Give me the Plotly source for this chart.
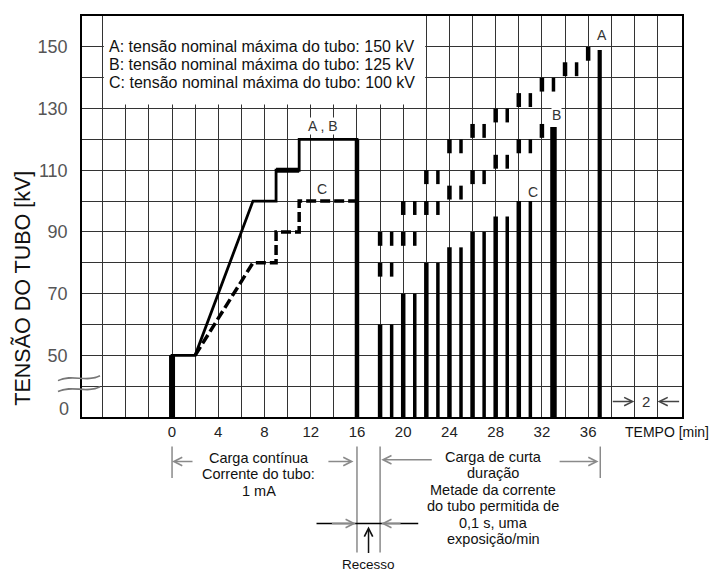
import plotly.graph_objects as go

# ---------------- data ----------------
x_tick_vals = [-6, -4, -2, 0, 2, 4, 6, 8, 10, 12, 14, 16, 18, 20, 22, 24, 26, 28, 30, 32, 34, 36, 38, 40, 42]
x_tick_text = ["", "", "", "0", "", "4", "", "8", "", "12", "", "16", "", "20", "", "24", "", "28", "", "32", "", "36", "", "", ""]
y_tick_vals = [30, 40, 50, 60, 70, 80, 90, 100, 110, 120, 130, 140, 150]
y_tick_text = ["", "", "50", "", "70", "", "90", "", "110", "", "130", "", "150"]
y_zero_label = "0"   # printed slightly above the bottom edge (axis break)

# continuous load (A, B solid / C dashed)
cont_ab_t = [0, 0, 2, 7, 9, 9, 11, 11, 16, 16]
cont_ab_kv = [30, 50, 50, 100, 100, 110, 110, 120, 120, 30]
cont_c_t = [2, 7, 9, 9, 11, 11, 16]
cont_c_kv = [50, 80, 80, 90, 90, 100, 100]

# short-duration load, one exposure per minute
short_c_t = [18, 19, 20, 21, 22, 23, 24, 25, 26, 27, 28, 29, 30, 31]
short_c_kv = [60, 60, 70, 70, 80, 80, 85, 85, 90, 90, 95, 95, 100, 100]
short_b_t = [18, 19, 20, 21, 22, 23, 24, 25, 26, 27, 28, 29, 30, 31, 32]
short_b_kv = [80, 80, 90, 90, 100, 100, 105, 105, 110, 110, 115, 115, 120, 120, 125]
short_a_t = [18, 19, 20, 21, 22, 23, 24, 25, 26, 27, 28, 29, 30, 31, 32, 33, 34, 35, 36]
short_a_kv = [90, 90, 100, 100, 110, 110, 120, 120, 125, 125, 130, 130, 135, 135, 140, 140, 145, 145, 150]
final_b_t = [33]
final_b_kv = [124]
final_a_t = [37]
final_a_kv = [149]

legend_lines = ["A: tensão nominal máxima do tubo: 150 kV",
                "B: tensão nominal máxima do tubo: 125 kV",
                "C: tensão nominal máxima do tubo: 100 kV"]
left_note = ["Carga contínua", "Corrente do tubo:", "1 mA"]
right_note = ["Carga de curta", "duração", "Metade da corrente", "do tubo permitida de", "0,1 s, uma", "exposição/min"]

# ---------------- styling constants ----------------
BASE = 30          # axis bottom ("0")
SEG = 4.5          # length of the A/B exposure marks (kV)
ARIAL = "Liberation Sans, Arial, sans-serif"
PLOT_TOP_PX, PLOT_BOT_PX = 14, 417   # page pixels of the plot area
PLOT_LEFT_PX, PLOT_W = 82, 600
GRID = "#333333"


def ypaper(px):
    return (PLOT_BOT_PX - px) / (PLOT_BOT_PX - PLOT_TOP_PX)


def xpaper(px):
    return (px - PLOT_LEFT_PX) / PLOT_W


def segments(ts, lows, highs, keep):
    xs, ys = [], []
    for t, lo, hi in zip(ts, lows, highs):
        if keep(t):
            xs += [t, t, None]
            ys += [lo, hi, None]
    return xs, ys


fig = go.Figure()

# continuous load
fig.add_trace(go.Scatter(x=cont_c_t, y=cont_c_kv, mode="lines",
                         line=dict(color="black", width=3.5, dash="10px,4px"), hoverinfo="skip"))
fig.add_trace(go.Scatter(x=cont_ab_t, y=cont_ab_kv, mode="lines",
                         line=dict(color="black", width=2.8), hoverinfo="skip"))
# emphasized parts of the continuous curve
fig.add_trace(go.Scatter(x=cont_ab_t[0:2], y=cont_ab_kv[0:2], mode="lines",
                         line=dict(color="black", width=6), hoverinfo="skip"))
fig.add_trace(go.Scatter(x=cont_ab_t[5:7], y=cont_ab_kv[5:7], mode="lines",
                         line=dict(color="black", width=5), hoverinfo="skip"))
fig.add_trace(go.Scatter(x=cont_ab_t[8:10], y=cont_ab_kv[8:10], mode="lines",
                         line=dict(color="black", width=4.5), hoverinfo="skip"))

# short-duration exposures
for keep, w in [(lambda t: t % 2 == 0, 4.5), (lambda t: t % 2 == 1, 3.5)]:
    xs, ys = segments(short_c_t, [BASE] * len(short_c_t), short_c_kv, keep)
    xa, ya = segments(short_a_t, [v - SEG for v in short_a_kv], short_a_kv, keep)
    xb, yb = segments(short_b_t, [v - SEG for v in short_b_kv], short_b_kv, keep)
    fig.add_trace(go.Scatter(x=xs + xa + xb, y=ys + ya + yb, mode="lines",
                             line=dict(color="black", width=w), hoverinfo="skip"))

xs, ys = segments(final_b_t, [BASE], final_b_kv, lambda t: True)
fig.add_trace(go.Scatter(x=xs, y=ys, mode="lines", line=dict(color="black", width=6.5), hoverinfo="skip"))
xs, ys = segments(final_a_t, [BASE], final_a_kv, lambda t: True)
fig.add_trace(go.Scatter(x=xs, y=ys, mode="lines", line=dict(color="black", width=4.2), hoverinfo="skip"))

shapes = []
# white legend box covering the grid
shapes.append(dict(type="rect", xref="x", yref="y", x0=-5.9, x1=21.9, y0=131.3, y1=160,
                   fillcolor="white", line=dict(width=0), layer="between"))
# axis break squiggles
for yc in [ypaper(378), ypaper(389)]:
    x0, w, h = -0.04, 0.07, 0.012
    shapes.append(dict(type="path", xref="paper", yref="paper",
                       path=f"M {x0},{yc - 0.006} C {x0 + w/3},{yc + h} {x0 + 2*w/3},{yc - h} {x0 + w},{yc + 0.006}",
                       line=dict(color="#777", width=1.6)))
# bracket lines under the axis
for t, p0, p1 in [(0, 446.7, 478.3), (16, 446.7, 553.3), (18, 446.7, 553.3), (37.05, 446.7, 478.3)]:
    shapes.append(dict(type="line", xref="x", yref="paper", x0=t, x1=t, y0=ypaper(p0), y1=ypaper(p1),
                       line=dict(color="#8a8a8a", width=1.5)))
shapes.append(dict(type="line", xref="x", yref="paper", x0=12.5, x1=21.3, y0=ypaper(524), y1=ypaper(524),
                   line=dict(color="black", width=1.5)))

ann = []


def label(x, y, txt, size, xref="x", yref="paper", color="#111", **kw):
    d = dict(x=x, y=y, xref=xref, yref=yref, text=txt, showarrow=False,
             xanchor=kw.pop("xanchor", "center"), yanchor="middle",
             font=dict(family=ARIAL, size=size, color=color))
    d.update(kw)
    return d


# legend text
for i, txt in enumerate(legend_lines):
    ann.append(label(-5.62, ypaper(45 + 17.7 * i), txt, 16, xanchor="left"))
# curve labels
for txt, t, kv in [("A , B", 13.1, 124.5), ("C", 13.0, 104), ("A", 37.2, 154), ("B", 33.3, 128), ("C", 31.2, 103)]:
    ann.append(label(t, kv, txt, 14, yref="y", color="#333", bgcolor="white", borderpad=0))
# y "0" label
ann.append(label(xpaper(64), ypaper(409), y_zero_label, 18, xref="paper", color="#555"))
# y title
ann.append(label(xpaper(23), ypaper(288), "TENSÃO DO TUBO [kV]", 21.5, xref="paper", textangle=-90))
# x title
ann.append(label(42.8, ypaper(432), "TEMPO [min]", 14))
# bottom notes
for i, txt in enumerate(left_note):
    ann.append(label(7.5, ypaper(458 + 16.5 * i), txt, 14.5))
for i, txt in enumerate(right_note):
    ann.append(label(27.8, ypaper(457 + 16.6 * i), txt, 14.5))
ann.append(label(17.0, ypaper(565), "Recesso", 13.5))
ann.append(label(41, 35, "2", 15, yref="y", color="#333"))


def arrow(head, tail, yv, yref="paper", color="#8a8a8a"):
    return dict(x=head, y=yv, xref="x", yref=yref, ax=tail, ay=0, axref="x", ayref="pixel",
                text="", showarrow=True, arrowhead=5, arrowsize=1.1, arrowwidth=1.5,
                arrowcolor=color, standoff=0)


ann += [arrow(0, 1.9, ypaper(461.7)), arrow(15.7, 13.4, ypaper(461.7)),
        arrow(18.1, 22.6, ypaper(460)), arrow(36.9, 33.4, ypaper(461.7)),
        arrow(15.9, 13.7, ypaper(524)), arrow(18.1, 19.9, ypaper(524)),
        arrow(40, 38, 35, yref="y", color="#444"), arrow(42, 44, 35, yref="y", color="#444")]
ann.append(dict(x=17.0, y=ypaper(527), xref="x", yref="paper", ax=0, ay=28, text="", showarrow=True,
                arrowhead=5, arrowsize=1.1, arrowwidth=1.5, arrowcolor="#111", standoff=0))

# the page body has an 8px margin: size the figure so the plot area lands at the right place
fig.update_layout(
    width=716, height=565, margin=dict(l=74, r=42, t=6, b=156),
    paper_bgcolor="white", plot_bgcolor="white", showlegend=False,
    shapes=shapes, annotations=ann,
    xaxis=dict(range=[-7.79, 44.12], tickmode="array", tickvals=x_tick_vals, ticktext=x_tick_text,
               showgrid=True, gridcolor=GRID, gridwidth=1.3, zeroline=False,
               showline=True, mirror=True, linecolor="black", linewidth=1.5,
               ticks="", tickfont=dict(family=ARIAL, size=15, color="#222")),
    yaxis=dict(range=[30, 160], tickmode="array", tickvals=y_tick_vals, ticktext=y_tick_text,
               showgrid=True, gridcolor=GRID, gridwidth=1.3, zeroline=False,
               showline=True, mirror=True, linecolor="black", linewidth=1.5,
               ticks="outside", ticklen=9, tickcolor="rgba(0,0,0,0)",
               tickfont=dict(family=ARIAL, size=18, color="#555")),
)

fig.write_html("out.html")
